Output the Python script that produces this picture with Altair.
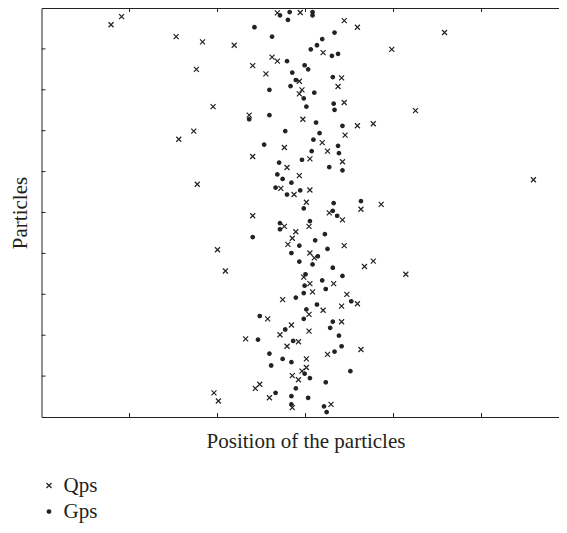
import altair as alt
import pandas as pd

# Qps (crosses)
qps_x = [0.79, 0.91, 1.53, 1.83, 2.19, 1.76, 1.95, 1.73, 1.56, 2.40, 1.77, 4.58, 3.98, 4.25, 5.59,
         2.68, 2.94, 3.44, 3.59, 3.20, 2.62, 2.68, 2.40, 2.55, 3.41, 2.93, 3.37, 2.96, 2.93, 3.44,
         2.36, 2.97, 3.59, 3.77, 3.45, 3.19, 2.76, 3.25, 3.05, 3.42, 2.79, 2.93, 2.72, 3.05, 2.87,
         3.01, 3.86, 3.63, 3.27, 2.40, 3.42, 2.76, 3.04, 2.89, 2.85, 2.80, 2.00, 3.44, 3.05, 3.10,
         3.77, 3.67, 2.09, 4.14, 2.98, 3.05, 3.32, 3.08, 3.47, 2.74, 3.59, 3.41, 3.20, 3.04, 2.57,
         3.41, 2.84, 3.04, 2.71, 2.32, 2.92, 2.79, 3.63, 3.25, 3.01, 3.01, 2.96, 2.85, 2.92, 2.48,
         2.43, 1.96, 2.01, 2.59, 2.85, 3.29]
qps_y = [9.59, 9.79, 9.30, 9.17, 9.09, 8.50, 7.59, 6.99, 6.79, 6.37, 5.69, 9.40, 8.99, 7.49, 5.80,
         9.88, 9.89, 9.69, 9.53, 8.91, 8.80, 8.70, 8.59, 8.39, 8.29, 8.21, 8.08, 8.00, 7.90, 7.69,
         7.38, 7.28, 7.12, 7.17, 6.89, 6.71, 6.59, 6.50, 6.31, 6.24, 6.10, 5.90, 5.59, 5.55, 5.44,
         5.25, 5.20, 5.08, 4.99, 4.92, 4.82, 4.66, 4.66, 4.53, 4.37, 4.22, 4.09, 4.19, 4.01, 3.89,
         3.81, 3.68, 3.57, 3.49, 3.42, 3.26, 3.26, 3.06, 3.00, 2.87, 2.77, 2.71, 2.61, 2.51, 2.40,
         2.33, 2.25, 2.10, 2.01, 1.91, 1.84, 1.73, 1.65, 1.53, 1.42, 1.21, 1.12, 1.01, 0.91, 0.80,
         0.70, 0.59, 0.39, 0.47, 0.23, 0.31]

# Gps (dots)
gps_x = [2.82, 2.71, 3.08, 3.08, 2.80, 2.42, 3.33, 2.62, 3.19, 3.13, 3.06, 3.30, 3.37, 2.79, 2.99,
         3.03, 2.85, 2.89, 3.31, 2.83, 2.59, 3.10, 2.98, 3.32, 3.01, 3.33, 2.36, 2.59, 3.12, 3.42,
         2.77, 3.16, 3.09, 2.53, 3.37, 3.07, 3.38, 2.96, 2.70, 3.27, 3.42, 2.68, 2.74, 2.84, 2.66,
         2.94, 2.79, 3.63, 3.32, 2.98, 3.31, 3.36, 3.05, 2.71, 2.71, 3.22, 2.40, 3.11, 2.93, 3.25,
         2.84, 3.14, 2.93, 3.08, 3.31, 3.00, 3.42, 3.19, 2.99, 3.23, 2.98, 2.89, 3.52, 3.13, 3.01,
         2.48, 2.98, 3.31, 2.77, 3.28, 2.46, 2.86, 3.38, 3.41, 3.33, 2.59, 2.74, 2.84, 2.61, 2.99,
         3.05, 3.51, 3.23, 2.89, 2.66, 2.84, 3.03, 2.84, 3.21, 3.24]
gps_y = [9.90, 9.82, 9.90, 9.82, 9.71, 9.53, 9.40, 9.30, 9.24, 9.09, 8.99, 8.83, 8.88, 8.70, 8.60,
         8.50, 8.42, 8.24, 8.31, 8.09, 8.00, 7.93, 7.79, 7.66, 7.59, 7.51, 7.28, 7.38, 7.20, 7.12,
         6.99, 6.94, 6.78, 6.66, 6.63, 6.50, 6.45, 6.29, 6.22, 6.11, 6.03, 5.93, 5.82, 5.73, 5.61,
         5.54, 5.44, 5.28, 5.23, 5.10, 5.04, 4.92, 4.79, 4.74, 4.59, 4.47, 4.40, 4.32, 4.19, 4.11,
         4.01, 3.93, 3.80, 3.73, 3.65, 3.49, 3.45, 3.34, 3.21, 3.13, 3.03, 2.92, 2.83, 2.75, 2.63,
         2.47, 2.40, 2.33, 2.14, 2.18, 1.89, 1.86, 1.99, 1.73, 1.60, 1.55, 1.42, 1.34, 1.26, 1.06,
         0.95, 1.12, 0.85, 0.70, 0.59, 0.51, 0.47, 0.31, 0.26, 0.12]

series_names = ["Qps", "Gps"]
x_tick_values = [1, 2, 3, 4, 5]
y_tick_values = [1, 2, 3, 4, 5, 6, 7, 8, 9]

X_DOMAIN = [0, 6]
Y_DOMAIN = [0, 10]
W, H = 528, 409
INK = "#222222"
TEXT = "#231f20"
FONT = "Liberation Serif"

CROSS_PATH = "M-1,-1L1,1M-1,1L1,-1"
DOT_PATH = "M-0.7,0A0.7,0.7 0 1,0 0.7,0A0.7,0.7 0 1,0 -0.7,0Z"

df = pd.concat([
    pd.DataFrame({"x": qps_x, "y": qps_y, "series": series_names[0]}),
    pd.DataFrame({"x": gps_x, "y": gps_y, "series": series_names[1]}),
], ignore_index=True)

xs = alt.Scale(domain=X_DOMAIN, nice=False, zero=False)
ys = alt.Scale(domain=Y_DOMAIN, nice=False, zero=False)

leg = alt.Legend(
    title=None, orient="none", legendX=-3, legendY=467, direction="vertical",
    labelFont=FONT, labelFontSize=21, labelColor=TEXT, labelOffset=4,
    symbolSize=25, symbolStrokeWidth=1.2, symbolStrokeColor=INK,
    rowPadding=4, padding=0,
)

points = alt.Chart(df).mark_point(size=25, strokeWidth=1.2, opacity=1).encode(
    x=alt.X("x:Q", scale=xs, title="Position of the particles",
            axis=alt.Axis(labels=False, ticks=False, domain=False, grid=False, titlePadding=13)),
    y=alt.Y("y:Q", scale=ys, title="Particles",
            axis=alt.Axis(labels=False, ticks=False, domain=False, grid=False, titlePadding=11)),
    shape=alt.Shape("series:N", scale=alt.Scale(domain=series_names, range=[CROSS_PATH, DOT_PATH]), legend=leg),
    fill=alt.Fill("series:N", scale=alt.Scale(domain=series_names, range=["transparent", INK]), legend=leg),
    stroke=alt.Stroke("series:N", scale=alt.Scale(domain=series_names, range=[INK, INK]), legend=leg),
)

xt = pd.DataFrame({"x": x_tick_values})
yt = pd.DataFrame({"y": y_tick_values})

top_ticks = alt.Chart(xt).mark_rule(color=INK, strokeWidth=1).encode(
    x=alt.X("x:Q", scale=xs), y=alt.value(0), y2=alt.value(4))
bottom_ticks = alt.Chart(xt).mark_rule(color=INK, strokeWidth=1).encode(
    x=alt.X("x:Q", scale=xs), y=alt.value(H), y2=alt.value(H - 4))
left_ticks = alt.Chart(yt).mark_rule(color=INK, strokeWidth=1).encode(
    y=alt.Y("y:Q", scale=ys), x=alt.value(0), x2=alt.value(4))
right_ticks = alt.Chart(yt).mark_rule(color=INK, strokeWidth=1).encode(
    y=alt.Y("y:Q", scale=ys), x=alt.value(W), x2=alt.value(W - 4))

chart = alt.layer(top_ticks, bottom_ticks, left_ticks, right_ticks, points).properties(
    width=W, height=H,
    background="white",
    autosize=alt.AutoSizeParams(type="none"),
    padding={"left": 33.5, "top": 0, "right": -10.5, "bottom": 108},
).configure_view(
    stroke=INK, strokeWidth=1
).configure_axis(
    titleFont=FONT, titleFontSize=21, titleFontWeight="normal", titleColor=TEXT
)

chart.save("out.html", embed_options={"renderer": "svg", "actions": False})
